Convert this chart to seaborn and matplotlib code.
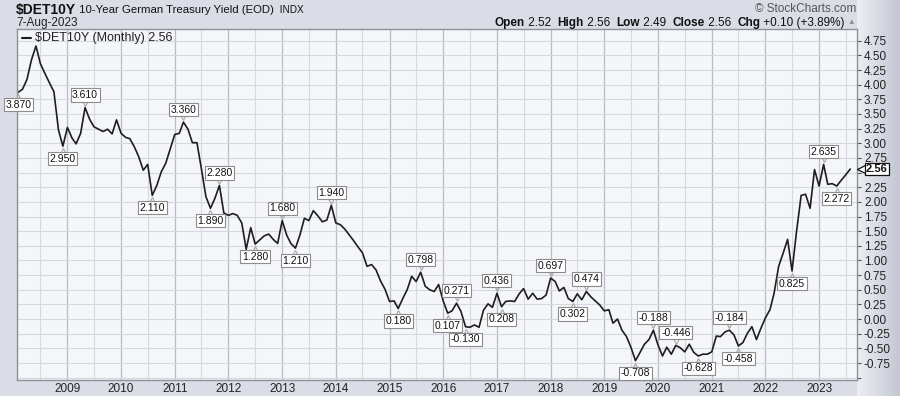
import numpy as np
import pandas as pd
import matplotlib
matplotlib.use("Agg")
import matplotlib.pyplot as plt
import matplotlib.dates as mdates
import matplotlib.transforms as mtransforms
import seaborn as sns

# monthly closes, Feb 2008 .. Aug 2023
start_month = "2008-02"
yields = [
    3.87, 3.92, 4.09, 4.42, 4.66, 4.36, 4.19, 4.03, 3.88, 3.23, 2.95,
    3.27, 3.09, 2.99, 3.17, 3.61, 3.41, 3.28, 3.24, 3.20, 3.24, 3.16, 3.40,
    3.17, 3.10, 3.08, 2.94, 2.77, 2.54, 2.64, 2.11, 2.28, 2.51, 2.66, 2.90,
    3.15, 3.17, 3.36, 3.24, 3.01, 3.01, 2.57, 2.09, 1.89, 2.06, 2.28, 1.81,
    1.77, 1.80, 1.77, 1.64, 1.19, 1.56, 1.28, 1.35, 1.42, 1.45, 1.36, 1.29,
    1.68, 1.43, 1.29, 1.21, 1.43, 1.72, 1.68, 1.85, 1.76, 1.66, 1.69, 1.94,
    1.64, 1.61, 1.54, 1.44, 1.34, 1.23, 1.13, 0.90, 0.93, 0.84, 0.65, 0.51,
    0.30, 0.31, 0.18, 0.35, 0.50, 0.73, 0.64, 0.80, 0.56, 0.50, 0.47, 0.59,
    0.31, 0.10, 0.14, 0.27, 0.13, -0.13, -0.14, -0.10, -0.14, 0.15, 0.26, 0.20,
    0.44, 0.21, 0.30, 0.31, 0.30, 0.43, 0.52, 0.34, 0.44, 0.34, 0.35, 0.41,
    0.70, 0.64, 0.48, 0.54, 0.35, 0.30, 0.43, 0.33, 0.47, 0.38, 0.31, 0.24,
    0.14, 0.16, -0.07, 0.00, -0.19, -0.30, -0.48, -0.71, -0.57, -0.43, -0.35, -0.19,
    -0.44, -0.63, -0.48, -0.60, -0.45, -0.49, -0.56, -0.43, -0.57, -0.63, -0.60, -0.60,
    -0.56, -0.29, -0.30, -0.22, -0.19, -0.27, -0.46, -0.40, -0.24, -0.13, -0.35, -0.16,
    0.02, 0.16, 0.44, 0.90, 1.12, 1.36, 0.82, 1.50, 2.11, 2.13, 1.89, 2.55,
    2.27, 2.64, 2.30, 2.31, 2.27, 2.37, 2.46, 2.56,
]

# swing high / low labels
label_months = ["2008-02", "2008-12", "2009-05", "2010-08", "2011-03", "2011-09",
                "2011-11", "2012-07", "2013-01", "2013-04", "2013-12", "2015-03",
                "2015-08", "2016-02", "2016-04", "2016-06", "2017-01", "2017-02",
                "2018-01", "2018-06", "2018-09", "2019-08", "2019-12", "2020-05",
                "2020-10", "2021-05", "2021-07", "2022-07", "2023-02", "2023-05"]
label_texts = ["3.870", "2.950", "3.610", "2.110", "3.360", "1.890",
               "2.280", "1.280", "1.680", "1.210", "1.940", "0.180",
               "0.798", "0.107", "0.271", "-0.130", "0.436", "0.208",
               "0.697", "0.302", "0.474", "-0.708", "-0.188", "-0.446",
               "-0.628", "-0.184", "-0.458", "0.825", "2.635", "2.272"]
label_above = [False, False, True, False, True, False,
               True, False, True, False, True, False,
               True, False, True, False, True, False,
               True, False, True, False, True, True,
               False, True, False, False, True, False]

y_ticks = [-1.0, -0.75, -0.5, -0.25, 0.0, 0.25, 0.5, 0.75, 1.0, 1.25, 1.5, 1.75,
           2.0, 2.25, 2.5, 2.75, 3.0, 3.25, 3.5, 3.75, 4.0, 4.25, 4.5, 4.75]

title_parts = [("$DET10Y", 10, "bold"), (" 10-Year German Treasury Yield (EOD) ", 8.2, "normal"),
               (" INDX", 7.2, "normal")]
header_parts = [("Open", True), (" 2.52  ", False), ("High", True), (" 2.56  ", False),
                ("Low", True), (" 2.49  ", False), ("Close", True), (" 2.56  ", False),
                ("Chg", True), (" +0.10 (+3.89%)", False)]

df = pd.DataFrame({
    "date": pd.date_range(start_month, periods=len(yields), freq="MS"),
    "yield": yields,
})

sns.set_style("white")
plt.rcParams["font.family"] = ["Liberation Sans", "DejaVu Sans"]

fig = plt.figure(figsize=(9, 3.96), dpi=100, facecolor="#dadde6")
renderer = fig.canvas.get_renderer()

# right-hand axis panel, light to dark
bg = fig.add_axes([857 / 900, 0, 43 / 900, 1], zorder=0)
bg.imshow(np.linspace(0, 1, 50).reshape(1, -1), aspect="auto",
          cmap=matplotlib.colors.LinearSegmentedColormap.from_list("p", ["#eceef3", "#c3c7d2"]),
          extent=(0, 1, 0, 1))
bg.set_axis_off()

ax = fig.add_axes([17 / 900, 1 - 380 / 396, 840 / 900, 351 / 396], zorder=1)
ax.set_facecolor("#f5f6fa")

# grid
ax.xaxis.set_major_locator(mdates.YearLocator())
ax.xaxis.set_minor_locator(mdates.MonthLocator(bymonth=7))
ax.xaxis.set_major_formatter(mdates.DateFormatter("%Y"))
ax.grid(True, which="major", axis="x", color="#b9bcc6", lw=0.9)
ax.grid(True, which="minor", axis="x", color="#d6d8df", lw=0.8)
ax.grid(True, which="major", axis="y", color="#d6d8df", lw=0.8)
ax.set_axisbelow(True)

sns.lineplot(data=df, x="date", y="yield", ax=ax, color="#1e1e1e", lw=1.2)

ax.set_xlim(pd.Timestamp("2008-01-24"), pd.Timestamp("2023-09-16"))
ax.set_ylim(-1.04, 4.95)
ax.set_xlabel("")
ax.set_ylabel("")

ax.yaxis.tick_right()
ax.set_yticks(y_ticks)
# -1.00 has no label; 2.50 sits under the last-value tag
ax.set_yticklabels(["" if t in (-1.0, 2.5) else f"{t:.2f}" for t in y_ticks])
ax.tick_params(axis="y", which="major", right=True, length=3, width=0.8,
               color="#555555", labelsize=8.5, labelcolor="#222222", pad=2)
ax.tick_params(axis="x", which="major", bottom=False, length=0,
               labelsize=8.5, labelcolor="#222222", pad=2)
ax.tick_params(axis="x", which="minor", bottom=False)
for sp in ax.spines.values():
    sp.set_color("#8d919c")
    sp.set_linewidth(1.0)

# swing labels
lookup = df.set_index(df["date"].dt.strftime("%Y-%m"))["yield"]
up = mtransforms.offset_copy(ax.transData, fig=fig, x=0, y=3.5, units="points")
dn = mtransforms.offset_copy(ax.transData, fig=fig, x=0, y=-3.5, units="points")
for m, txt, above in zip(label_months, label_texts, label_above):
    d = pd.Timestamp(m + "-01")
    v = lookup[m]
    ax.plot([d], [v], marker="v" if above else "^", ms=5, mfc="none",
            mec="#a8a8a8", mew=0.8, transform=up if above else dn, zorder=4)
    ax.annotate(txt, (d, v), xytext=(0, 9 if above else -9),
                textcoords="offset points", ha="center", va="center",
                fontsize=7.5, color="#111111", zorder=5,
                bbox=dict(boxstyle="square,pad=0.15", fc="white", ec="#8c8c8c", lw=0.8))

# legend line
ax.plot([0.006, 0.017], [0.975, 0.975], transform=ax.transAxes, color="#1e1e1e", lw=1.5)
ax.text(0.021, 0.975, "$DET10Y (Monthly) 2.56", transform=ax.transAxes,
        fontsize=9, va="center", ha="left", color="#222222")

# last value tag
ax.plot([1.0], [yields[-1]], marker="<", ms=7, mfc="white", mec="#111111", mew=0.9,
        transform=mtransforms.offset_copy(ax.get_yaxis_transform(), fig=fig, x=3.5, y=0, units="points"),
        clip_on=False, zorder=6)
ax.annotate("2.56", xy=(1.0, yields[-1]), xycoords=("axes fraction", "data"),
            xytext=(6.5, 0), textcoords="offset points", ha="left", va="center",
            fontsize=8, fontweight="bold", color="#111111", annotation_clip=False, zorder=7,
            bbox=dict(boxstyle="square,pad=0.1", fc="white", ec="#111111", lw=0.9))

# header
def px(x, y):
    return x / 900, 1 - y / 396

x_left = 16
for s, size, weight in title_parts:
    t = fig.text(*px(x_left, 10), s, fontsize=size, fontweight=weight, va="center", color="#111111")
    x_left += t.get_window_extent(renderer).width
fig.text(*px(16, 23), "7-Aug-2023", fontsize=8.5, va="center", color="#222222")
fig.text(*px(856, 9.5), "\u00a9 StockCharts.com", fontsize=8.5, va="center", ha="right", color="#555555")

# OHLC line, laid out piece by piece from the right
x_right = 845
for s, b in reversed(header_parts):
    t = fig.text(*px(x_right, 22.7), s, fontsize=8.5, va="center", ha="right", color="#111111",
                 fontweight="bold" if b else "normal")
    x_right -= t.get_window_extent(renderer).width
fig.text(*px(851, 22.7), "\u25b2", fontsize=5.5, va="center", ha="center", color="#8a8f9a")

fig.savefig("out.png", dpi=100, facecolor=fig.get_facecolor())
